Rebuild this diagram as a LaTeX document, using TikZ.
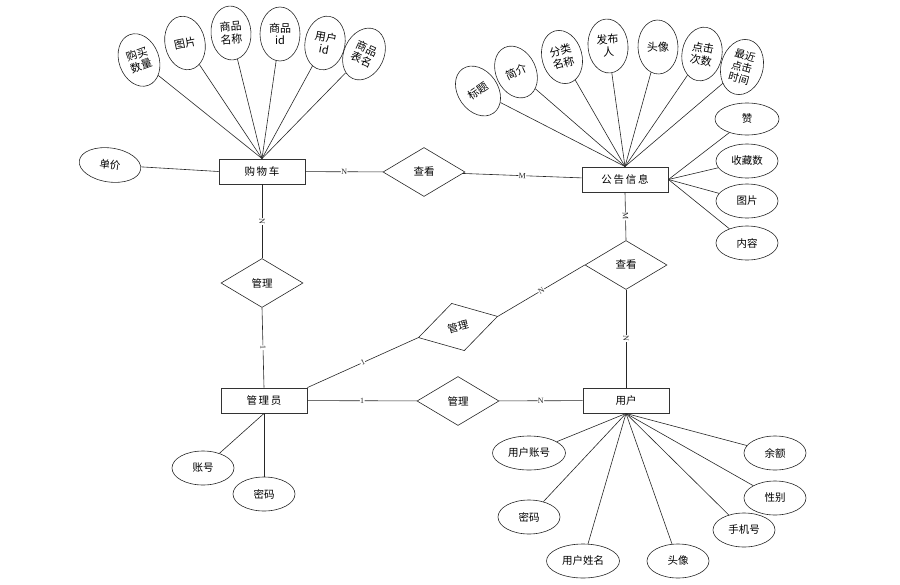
\documentclass[tikz,border=0pt]{standalone}
\usepackage{fontspec}
\setmainfont{Liberation Serif}
\newfontfamily\cjk{Noto Sans CJK SC}
\usepackage{tikz}
\usetikzlibrary{shapes.geometric}
\tikzset{
  ent/.style={rectangle,draw=black!80,line width=0.9pt,minimum width=86pt,minimum height=25pt,inner sep=0pt,font=\cjk\fontsize{10.5}{12}\selectfont},
  rel/.style={diamond,draw=black!85,line width=0.6pt,minimum width=82pt,minimum height=49pt,inner sep=0pt,font=\cjk\fontsize{10.5}{12}\selectfont},
  attr/.style={ellipse,draw=black!85,line width=0.6pt,minimum width=62pt,minimum height=34pt,inner sep=0pt,font=\cjk\fontsize{10.5}{12}\selectfont},
  tall/.style={attr,minimum width=40pt,minimum height=54pt,align=center,font=\cjk\fontsize{11}{12.5}\selectfont},
  link/.style={line width=0.6pt,black!85},
  card/.style={fill=white,inner sep=0.4pt,font=\fontsize{8}{8}\selectfont,sloped},
}
\begin{document}
\begin{tikzpicture}[x=1pt,y=-1pt]
  \useasboundingbox (0,0) rectangle (900,584);
  % entities
  \node[ent](cart) at (262,171.5){购\,物\,车};
  \node[ent](notice) at (625,179.5){公\,告\,信\,息};
  \node[ent](admin) at (264,400.5){管\,理\,员};
  \node[ent](user) at (626,400.5){用户};
  % relations
  \node[rel](viewA) at (424,172){查看};
  \node[rel](viewB) at (626,265){查看};
  \node[rel](mgrA) at (262,283){管理};
  \node[rel](mgrB) at (458,401){管理};
  \node[rel,rotate=15](mgrC) at (458,327){管理};
  % cart attributes
  \node[tall,rotate=20](c1) at (139,60){购买\\数量};
  \node[tall,rotate=12](c2) at (185,43){图片};
  \node[tall,rotate=4](c3) at (231,33){商品\\名称};
  \node[tall](c4) at (280,34){商品\\id};
  \node[tall,rotate=-10](c5) at (325,43){用户\\id};
  \node[tall,rotate=-25](c6) at (364,54){商品\\表名};
  \node[attr,rotate=-8](c7) at (110,165){单价};
  \foreach \a in {c1,c2,c3,c4,c5,c6}
    {\draw[link] (\a) -- (cart.north);}
  \draw[link] (c7) -- (cart.west);
  % notice attributes
  \node[tall,rotate=35](n1) at (478,91){标题};
  \node[tall,rotate=25](n2) at (516,72){简介};
  \node[tall,rotate=15](n3) at (562,57){分类\\名称};
  \node[tall,rotate=5](n4) at (608,46){发布\\人};
  \node[tall,rotate=2](n5) at (658,47){头像};
  \node[tall,rotate=-10](n6) at (702,54){点击\\次数};
  \node[tall,rotate=-15,minimum width=42pt,minimum height=56pt,font=\cjk\fontsize{10.5}{12}\selectfont](n7) at (742,67){最近\\点击\\时间};
  \foreach \a in {n1,n2,n3,n4,n5,n6,n7}
    {\draw[link] (\a) -- (notice.north);}
  \node[attr,minimum width=64pt,minimum height=32pt](n8) at (747,119){赞};
  \node[attr](n9) at (747,161){收藏数};
  \node[attr](n10) at (747,201){图片};
  \node[attr](n11) at (747,243){内容};
  \foreach \a in {n8,n9,n10,n11}
    {\draw[link] (\a) -- (notice.east);}
  % admin attributes
  \node[attr](a1) at (203,468){账号};
  \node[attr](a2) at (264,494){密码};
  \draw[link] (a1) -- (admin.south);
  \draw[link] (a2) -- (admin.south);
  % user attributes
  \node[attr,minimum width=73pt](u1) at (529,453){用户账号};
  \node[attr](u2) at (529,517){密码};
  \node[attr,minimum width=73pt](u3) at (583,561){用户姓名};
  \node[attr](u4) at (678,561){头像};
  \node[attr](u5) at (744,530){手机号};
  \node[attr](u6) at (775,498){性别};
  \node[attr](u7) at (775,453){余额};
  \foreach \a in {u1,u2,u3,u4,u5,u6,u7}
    {\draw[link] (\a) -- (user.south);}
  % relationship links
  \draw[link] (cart) -- node[card]{N} (viewA);
  \draw[link] (viewA) -- node[card]{M} (notice);
  \draw[link] (cart) -- node[card]{N} (mgrA);
  \draw[link] (mgrA.south) -- node[card]{1} (admin.north);
  \draw[link] (notice.south) -- node[card]{M} (viewB.north);
  \draw[link] (viewB) -- node[card]{N} (user);
  \draw[link] (viewB.west) -- node[card]{N} (mgrC.east);
  \draw[link] (mgrC.west) -- node[card]{1} (admin.north east);
  \draw[link] (admin) -- node[card]{1} (mgrB);
  \draw[link] (mgrB) -- node[card]{N} (user);
\end{tikzpicture}
\end{document}
